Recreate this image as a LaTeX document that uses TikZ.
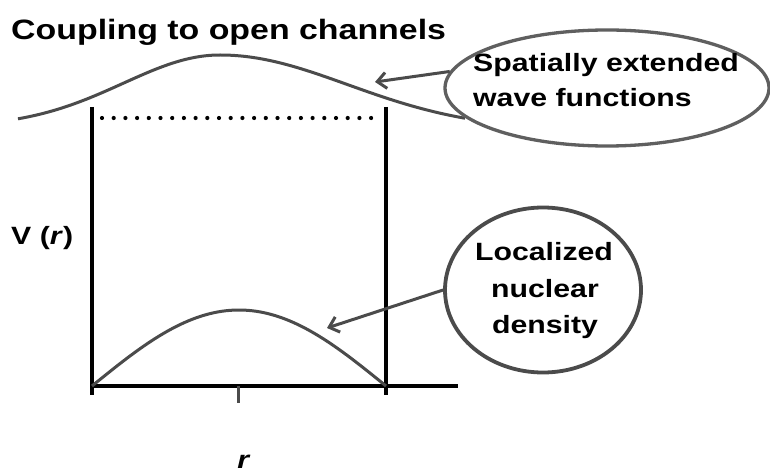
\documentclass[tikz,border=0pt]{standalone}
\usepackage{fontspec}
\setmainfont{Liberation Sans}
\usetikzlibrary{shapes.geometric,arrows.meta}
\definecolor{curvegray}{RGB}{75,75,75}
\definecolor{outlinegray}{RGB}{95,95,95}
\newcommand{\widetext}[1]{\scalebox{1.21}[1]{#1}}
\tikzset{
  axisline/.style={line width=3.6pt, black},
  curveline/.style={line width=3pt, curvegray, line join=round},
  callout/.style={line width=3.3pt, outlinegray},
  pointer/.style={line width=3pt, curvegray, -{Straight Barb[length=9pt,width=16pt,line width=3pt]}},
  bigtext/.style={font=\bfseries\fontsize{28}{32}\selectfont, inner sep=0pt, anchor=base west},
  labeltext/.style={font=\bfseries\fontsize{25}{30}\selectfont, inner sep=0pt},
}
\begin{document}
\begin{tikzpicture}[x=1pt,y=-1pt]
\useasboundingbox[fill=white] (0,0) rectangle (770,473);
% title
\node[bigtext] (title) at (11,40) {\widetext{Coupling to open channels}};
% wave function
\draw[curveline] plot[domain=18:220, samples=60, variable=\t] ({\t},{127-72*exp(-((\t-220)/137)^2)})
  -- plot[domain=220:465, samples=60, variable=\t] ({\t},{130-75*exp(-((\t-220)/180)^2)});
% dotted level
\coordinate (dl) at (102,118);
\coordinate (dr) at (376,118);
\draw[line width=4.2pt, line cap=round, dash pattern=on 0pt off 11.7pt] (dl) -- (dr);
% walls and axis
\coordinate (wlt) at (92,107);
\coordinate (wlb) at (92,395);
\coordinate (wrt) at (386,107);
\coordinate (wrb) at (386,395);
\coordinate (axl) at (92,386);
\coordinate (axr) at (458,386);
\coordinate (tkt) at (238,386);
\coordinate (tkb) at (238,403);
\draw[axisline] (wlt) -- (wlb);
\draw[axisline] (wrt) -- (wrb);
\draw[axisline] (axl) -- (axr);
\draw[line width=3pt, curvegray] (tkt) -- (tkb);
% nuclear density
\draw[curveline] plot[domain=92:386, samples=80, variable=\t] ({\t},{386-76*sin(0.612245*(\t-92))});
% labels
\node[labeltext, anchor=base west] (vr) at (11,244) {\widetext{V (\textit{r})}};
\node[labeltext, anchor=base] (rlab) at (244,468) {\widetext{\textit{r}}};
% callout ellipse
\node[ellipse, callout, draw, minimum width=324pt, minimum height=116pt, inner sep=0pt] (ell) at (607,88) {};
\node[labeltext, anchor=base west] (ellt1) at (473,72) {\widetext{Spatially extended}};
\node[labeltext, anchor=base west] (ellt2) at (473,107) {\widetext{wave functions}};
\coordinate (tipa) at (375,82);
\draw[pointer] (ell.174) -- (tipa);
% callout circle
\node[ellipse, draw, line width=3.8pt, curvegray, minimum width=196pt, minimum height=165pt, inner sep=0pt] (circ) at (543,290) {};
\node[labeltext, anchor=base] (ct1) at (544,260) {\widetext{Localized}};
\node[labeltext, anchor=base] (ct2) at (545,297) {\widetext{nuclear}};
\node[labeltext, anchor=base] (ct3) at (545,333) {\widetext{density}};
\coordinate (tipb) at (327,328);
\draw[pointer] (circ.west) -- (tipb);
\end{tikzpicture}
\end{document}
